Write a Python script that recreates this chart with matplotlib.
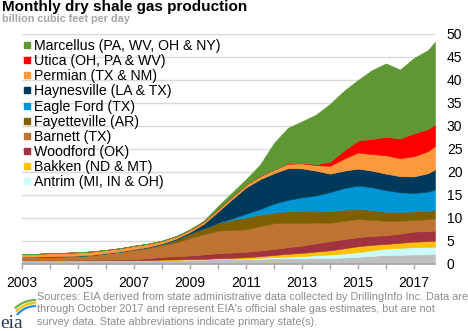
import matplotlib.pyplot as plt
from matplotlib.lines import Line2D
from matplotlib.patches import Arc

plt.rcParams['font.family'] = ['Liberation Sans', 'DejaVu Sans']

# half-yearly readings, billion cubic feet per day
months = ['2003-01', '2003-07', '2004-01', '2004-07', '2005-01', '2005-07',
          '2006-01', '2006-07', '2007-01', '2007-07', '2008-01', '2008-07',
          '2009-01', '2009-07', '2010-01', '2010-07', '2011-01', '2011-07',
          '2012-01', '2012-07', '2013-01', '2013-07', '2014-01', '2014-07',
          '2015-01', '2015-07', '2016-01', '2016-07', '2017-01', '2017-07',
          '2017-10']

rest_of_us = [.75, .75, .75, .75, .75, .75, .75, .75, .75, .8, .85, .85, .9, .95, 1.0, 1.0,
              1.0, 1.05, 1.15, 1.15, 1.15, 1.2, 1.2, 1.35, 1.5, 1.7, 1.9, 1.95, 2.0, 2.05, 2.1]
antrim = [0, 0, 0, 0, 0, 0, 0, 0, 0, 0, 0, 0, 0, 0, .05, .08,
          .1, .2, .3, .4, .5, .65, .8, .9, 1.0, 1.2, 1.4, 1.5, 1.6, 1.6, 1.6]
bakken = [0, 0, 0, 0, 0, 0, 0, 0, 0, 0, .05, .08, .1, .12, .15, .2,
          .3, .38, .45, .6, .7, .8, .9, 1.1, 1.3, 1.2, 1.0, 1.1, 1.2, 1.25, 1.3]
woodford = [0, 0, 0, 0, 0, .08, .1, .15, .25, .4, .6, .7, .8, .95, 1.1, 1.15,
            1.2, 1.25, 1.3, 1.45, 1.6, 1.8, 2.0, 2.0, 2.0, 1.95, 1.9, 2.0, 2.2, 2.2, 2.2]
barnett = [.7, .72, .8, .85, .95, 1.05, 1.4, 1.7, 2.0, 2.2, 2.5, 3.0, 3.8, 4.4, 4.9, 4.9,
           4.9, 5.3, 5.6, 5.3, 4.9, 4.5, 4.0, 4.0, 3.9, 3.5, 3.1, 2.8, 2.5, 2.6, 2.7]
fayetteville = [0, 0, 0, 0, 0, 0, 0, 0, .1, .2, .3, .6, 1.0, 1.3, 1.7, 2.2,
                2.6, 2.5, 2.3, 2.5, 2.7, 2.6, 2.5, 2.4, 2.3, 2.1, 2.0, 1.9, 1.9, 1.8, 1.8]
eagle_ford = [0, 0, 0, 0, 0, 0, 0, 0, 0, 0, 0, 0, 0, 0, .05, .3,
              .8, 1.2, 2.0, 2.5, 2.9, 3.3, 4.2, 4.7, 5.0, 5.0, 4.7, 4.3, 4.0, 4.2, 4.4]
haynesville = [.05, .05, .05, .05, .05, .05, .05, .05, .05, .05, .1, .2, .3, 1.0, 2.4, 4.2,
               5.7, 6.5, 6.6, 6.9, 6.3, 5.4, 4.0, 3.8, 3.7, 3.6, 3.6, 3.5, 3.6, 4.0, 4.4]
permian = [.6, .62, .7, .72, .75, .75, .7, .72, .75, .7, .6, .55, .5, .5, .5, .55,
           .6, .7, .8, 1.0, 1.1, 1.2, 1.7, 2.6, 3.5, 3.6, 4.0, 3.9, 4.4, 4.8, 5.1]
utica = [0, 0, 0, 0, 0, 0, 0, 0, 0, 0, 0, 0, 0, 0, 0, 0,
         0, 0, 0, 0, .05, .2, .9, 1.8, 2.6, 3.3, 4.0, 4.3, 5.0, 4.8, 4.7]
marcellus = [0, 0, 0, 0, 0, 0, 0, 0, 0, .02, .02, .05, .1, .2, .7, .9,
             1.2, 2.5, 5.8, 7.8, 9.1, 10.8, 12.6, 13.0, 13.2, 15.0, 16.0, 15.0, 16.4, 17.2, 18.0]

series = [rest_of_us, antrim, bakken, woodford, barnett, fayetteville,
          eagle_ford, haynesville, permian, utica, marcellus]
colors = ['#bfbfbf', '#ccfafa', '#ffc000', '#a2323f', '#bd7332', '#7f6000',
          '#0096d6', '#00395a', '#fb9a3c', '#ff0000', '#5e9734']
labels = ['Marcellus (PA, WV, OH & NY)', 'Utica (OH, PA & WV)', 'Permian (TX & NM)',
          'Haynesville (LA & TX)', 'Eagle Ford (TX)', 'Fayetteville (AR)',
          'Barnett (TX)', 'Woodford (OK)', 'Bakken (ND & MT)', 'Antrim (MI, IN & OH)']

x = [int(m[:4]) + (int(m[5:]) - 1) / 12 for m in months]

fig = plt.figure(figsize=(4.68, 3.31), dpi=100)
ax = fig.add_axes([22 / 468, 1 - 263.7 / 331, 413 / 468, 229.7 / 331])

polys = ax.stackplot(x, *series, colors=colors)
for p, c in zip(polys, colors):
    p.set_edgecolor(c)
    p.set_linewidth(0.4)

ax.set_xlim(2003, x[-1])
ax.set_ylim(0, 50)
ax.set_yticks(range(0, 51, 5))
ax.yaxis.tick_right()
ax.yaxis.grid(True, color='#d9d9d9', linewidth=1)
ax.set_axisbelow(True)
ax.tick_params(axis='y', length=0, pad=8.5, labelsize=10, labelcolor='black')

years = list(range(2003, 2018))
ax.set_xticks(years)
ax.set_xticklabels([str(y) if (y - 2003) % 2 == 0 else '' for y in years])
ax.tick_params(axis='x', length=3.5, width=1, color='#a6a6a6', pad=5, labelsize=10)

for s in ['top', 'left', 'right']:
    ax.spines[s].set_visible(False)
ax.spines['bottom'].set_color('#a6a6a6')
ax.spines['bottom'].set_linewidth(1.2)

# legend, top to bottom = Marcellus ... Antrim
handles = [Line2D([], [], ls='none', marker='s', ms=5, mfc=c, mec=c)
           for c in colors[1:][::-1]]
ax.legend(handles, labels, loc='upper left', bbox_to_anchor=(23 / 468, 1 - 39 / 331),
          bbox_transform=fig.transFigure, frameon=False, fontsize=10.2,
          handlelength=0.6, handletextpad=0.2, labelspacing=0.08,
          borderpad=0, borderaxespad=0)

fig.text(2 / 468, 1 - 11 / 331, 'Monthly dry shale gas production',
         fontsize=11, fontweight='bold', va='baseline')
fig.text(2 / 468, 1 - 22 / 331, 'billion cubic feet per day',
         fontsize=7.8, fontweight='bold', color='#a6a6a6', va='baseline')

fig.text(37 / 468, 1 - 292 / 331,
         "Sources: EIA derived from state administrative data collected by DrillingInfo Inc. Data are\n"
         "through October 2017 and represent EIA's official shale gas estimates, but are not\n"
         "survey data. State abbreviations indicate primary state(s).",
         fontsize=7.8, color='#8c8c8c', va='top', linespacing=1.3)

# eia logo
lax = fig.add_axes([0, 0, 36 / 468, 35 / 331])
lax.set_xlim(0, 36)
lax.set_ylim(0, 35)
lax.axis('off')
for r, c, t1 in [(31, '#6ab04c', 133), (28, '#f2c200', 136), (25, '#2e8fd0', 140)]:
    lax.add_patch(Arc((36, 0), 2 * r, 2 * r, theta1=90, theta2=t1, color=c, lw=1.6))
lax.text(0, 3, 'eia', fontsize=14, family='Liberation Serif', color='#2a3b58', va='baseline')

fig.savefig('out.png', dpi=100)
